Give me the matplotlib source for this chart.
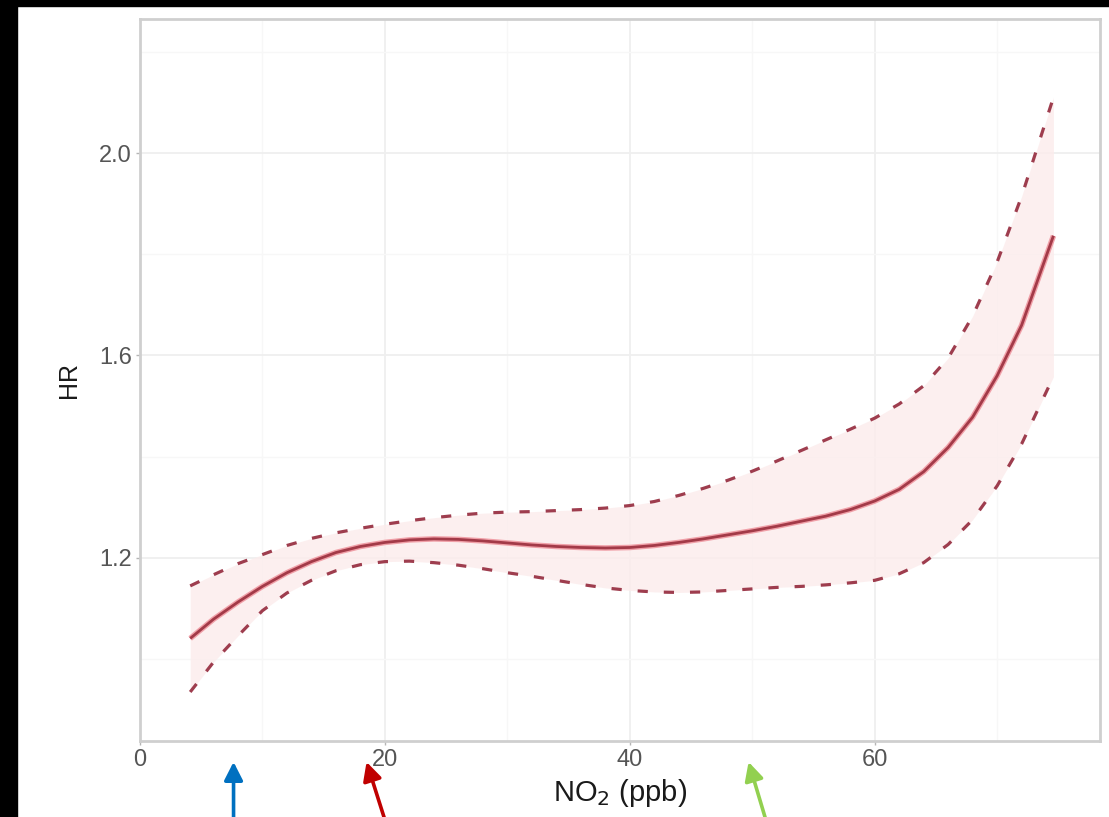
import matplotlib
matplotlib.use("Agg")
import matplotlib.pyplot as plt
from matplotlib.patches import Rectangle

# NO2 concentration (ppb) and hazard ratio with 95% CI
no2 = [4.1, 6, 8, 10, 12, 14, 16, 18, 20, 22, 24, 26, 28, 30, 32, 34, 36, 38,
       40, 42, 44, 46, 48, 50, 52, 54, 56, 58, 60, 62, 64, 66, 68, 70, 72, 74.6]
hr = [1.040, 1.078, 1.112, 1.143, 1.170, 1.192, 1.210, 1.222, 1.230, 1.235,
      1.237, 1.236, 1.233, 1.229, 1.225, 1.222, 1.220, 1.219, 1.220, 1.224,
      1.230, 1.237, 1.245, 1.253, 1.262, 1.272, 1.282, 1.295, 1.312, 1.335,
      1.370, 1.418, 1.478, 1.560, 1.660, 1.837]
hr_upper = [1.144, 1.166, 1.188, 1.206, 1.224, 1.238, 1.249, 1.258, 1.266, 1.273,
            1.279, 1.284, 1.288, 1.290, 1.291, 1.293, 1.295, 1.298, 1.303, 1.311,
            1.323, 1.337, 1.353, 1.371, 1.391, 1.412, 1.433, 1.454, 1.476, 1.504,
            1.540, 1.595, 1.678, 1.785, 1.915, 2.111]
hr_lower = [0.934, 0.993, 1.045, 1.095, 1.130, 1.155, 1.174, 1.186, 1.192, 1.193,
            1.190, 1.185, 1.178, 1.170, 1.163, 1.155, 1.147, 1.140, 1.135, 1.132,
            1.131, 1.132, 1.135, 1.138, 1.141, 1.143, 1.146, 1.150, 1.155, 1.168,
            1.190, 1.226, 1.275, 1.342, 1.425, 1.558]

x_ticks = [0, 20, 40, 60]
y_ticks = [1.2, 1.6, 2.0]
x_minor = [10, 30, 50, 70]
y_minor = [1.0, 1.4, 1.8, 2.2]

# pointer arrows under the x axis: (tip x, tail x, colour)
arrows = [(7.64, 7.64, "#0070C0"),
          (18.5, 20.2, "#C00000"),
          (49.7, 51.3, "#92D050")]

plt.rcParams['font.family'] = ['Liberation Sans', 'DejaVu Sans']

fig = plt.figure(figsize=(11.09, 8.17), dpi=100)
ax = fig.add_axes([140 / 1109, 76 / 817, 960 / 1109, 722 / 817])

# black strips at top and left edge of the screenshot
fig.patches.append(Rectangle((0, 1 - 6 / 817), 1, 6 / 817, transform=fig.transFigure,
                             color="black", zorder=10))
fig.patches.append(Rectangle((0, 0), 17 / 1109, 1, transform=fig.transFigure,
                             color="black", zorder=10))

ax.fill_between(no2, hr_lower, hr_upper, color="#fcecec", alpha=0.8, lw=0, zorder=1)
ax.plot(no2, hr, color="#f0a0a8", lw=4.0, solid_capstyle="butt", zorder=2)
ax.plot(no2, hr, color="#a33a48", lw=2.0, solid_capstyle="butt", zorder=3)
for band in (hr_upper, hr_lower):
    ax.plot(no2, band, color="#9e3d4e", lw=2.3, linestyle=(0, (3.2, 5.0)),
            dash_capstyle="butt", zorder=3)

ax.set_xlim(0, 78.4)
ax.set_ylim(0.837, 2.266)
ax.set_xticks(x_ticks)
ax.set_xticklabels([str(t) for t in x_ticks])
ax.set_yticks(y_ticks)
ax.set_yticklabels(["%.1f" % t for t in y_ticks])
ax.set_xticks(x_minor, minor=True)
ax.set_yticks(y_minor, minor=True)
ax.grid(which="major", color="#efefef", lw=1.3)
ax.grid(which="minor", color="#f7f7f7", lw=1.0)
ax.set_axisbelow(True)
ax.tick_params(which="major", length=3, width=1, color="#b5b5b5",
               labelsize=17, labelcolor="#555555", pad=3)
ax.tick_params(which="minor", length=0)

for s in ax.spines.values():
    s.set_color("#cfcfcf")
    s.set_linewidth(2)

ax.set_xlabel("NO$_2$ (ppb)", fontsize=21, color="#1a1a1a", labelpad=4)
ax.set_ylabel("HR", fontsize=18, color="#1a1a1a", labelpad=13)

for tip, tail, col in arrows:
    ax.annotate("", xy=(tip, -0.029), xytext=(tail, -0.12),
                xycoords=("data", "axes fraction"), textcoords=("data", "axes fraction"),
                annotation_clip=False,
                arrowprops=dict(arrowstyle="-|>,head_length=0.55,head_width=0.28",
                                mutation_scale=20, color=col, lw=2.6,
                                shrinkA=0, shrinkB=0))

fig.savefig("out.png", dpi=100)
